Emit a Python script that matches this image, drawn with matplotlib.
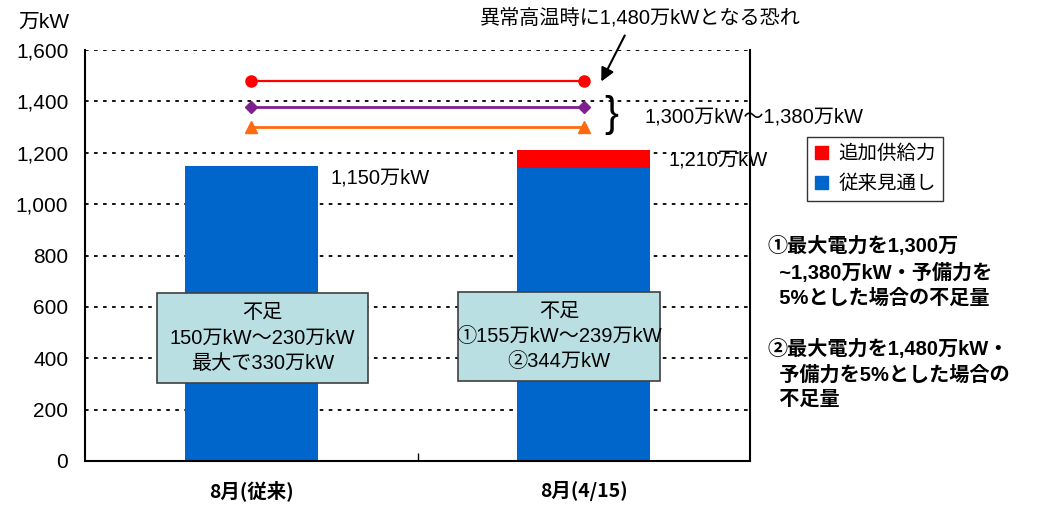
import matplotlib.pyplot as plt
import matplotlib.patches as mpatches
import numpy as np

plt.rcParams['font.family'] = ['Liberation Sans', 'Noto Sans CJK JP', 'DejaVu Sans']

# data
categories = ['8月(従来)', '8月(4/15)']
base_supply = [1150, 1140]      # 従来見通し
extra_supply = [0, 70]          # 追加供給力
demand_hot = 1480               # 異常高温時
demand_high = 1380
demand_low = 1300
yticks = [0, 200, 400, 600, 800, 1000, 1200, 1400, 1600]

W, H = 1048, 507
fig = plt.figure(figsize=(W / 100, H / 100), dpi=100)

def fx(x):
    return x / W

def fy(y):
    return 1 - y / H

ax = fig.add_axes([fx(85), fy(461), fx(750) - fx(85), fy(50) - fy(461)])

x = np.arange(len(categories))
blue = '#0066CC'
red = '#FF0000'
ax.bar(x, base_supply, width=0.4, color=blue, zorder=2)
ax.bar(x, extra_supply, width=0.4, bottom=base_supply, color=red, zorder=2)

ax.plot(x, [demand_hot] * 2, color='#FF0000', marker='o', ms=8, lw=1.6, zorder=3)
ax.plot(x, [demand_high] * 2, color='#7F1F8F', marker='D', ms=6, lw=2, zorder=3)
ax.plot(x, [demand_low] * 2, color='#FF6A10', marker='^', ms=9, lw=2, zorder=3)

ax.set_xlim(-0.5, 1.5)
ax.set_ylim(0, 1600)
ax.set_yticks(yticks)
ax.set_yticklabels([f'{v:,}' for v in yticks], fontsize=15)
ax.yaxis.grid(True, color='black', linestyle=(0, (2, 3)), linewidth=1.3, zorder=0)
ax.set_xticks([0.5])
ax.set_xticklabels([''])
ax.tick_params(axis='x', direction='in', length=6, width=1)
ax.tick_params(axis='y', length=0, pad=12)
for s in ['left', 'bottom', 'right']:
    ax.spines[s].set_linewidth(1.5)
ax.spines['top'].set_visible(False)

# category labels well below the axis
for i, c in enumerate(categories):
    ax.text(i, -115, c, ha='center', va='center', fontsize=14,
            family=['Noto Sans CJK JP'], fontweight='bold')

# shortage boxes
box_color = '#B9DFE2'
boxes = [(-0.283, 304, 0.634, 350, '不足\n150万kW～230万kW\n最大で330万kW'),
         (0.622, 311, 0.608, 347, '不足\n①155万kW～239万kW\n②344万kW')]
for bx, by, bw, bh, txt in boxes:
    ax.add_patch(mpatches.Rectangle((bx, by), bw, bh, facecolor=box_color,
                                    edgecolor='#404040', lw=1.2, zorder=4))
    ax.text(bx + bw / 2, by + bh / 2, txt, ha='center', va='center',
            fontsize=14.5, linespacing=1.42, zorder=5)

# value labels
fig.text(fx(330), fy(178), '1,150万kW', fontsize=14.5, va='center')
fig.text(fx(668), fy(160), '1,210万kW', fontsize=14.5, va='center')
fig.text(fx(644), fy(117), '1,300万kW～1,380万kW', fontsize=14.5, va='center')
fig.text(fx(604), fy(115), '}', fontsize=30, va='center', fontweight='light')
fig.text(fx(480), fy(18), '異常高温時に1,480万kWとなる恐れ', fontsize=14.5, va='center')
ax.annotate('', xy=(fx(600), fy(84)), xycoords='figure fraction',
            xytext=(fx(626), fy(33)), textcoords='figure fraction',
            arrowprops=dict(arrowstyle='-|>', color='black', lw=1.5,
                            mutation_scale=20))

fig.text(fx(18), fy(22), '万kW', fontsize=15, va='center')

# legend
handles = [mpatches.Patch(color=red, label='追加供給力'),
           mpatches.Patch(color=blue, label='従来見通し')]
fig.legend(handles=handles, loc='upper left', bbox_to_anchor=(fx(807), fy(137)),
           fontsize=14, frameon=True, fancybox=False, edgecolor='black',
           handlelength=0.7, handleheight=0.7, handletextpad=0.5,
           borderpad=0.4, labelspacing=0.6, borderaxespad=0)

notes = ('①最大電力を1,300万\n  ~1,380万kW・予備力を\n  5%とした場合の不足量',
         '②最大電力を1,480万kW・\n  予備力を5%とした場合の\n  不足量')
fig.text(fx(768), fy(272), notes[0], fontsize=14.5, va='center', linespacing=1.38,
         fontweight='bold')
fig.text(fx(768), fy(374), notes[1], fontsize=14.5, va='center', linespacing=1.38,
         fontweight='bold')

fig.savefig('out.png', dpi=100)
